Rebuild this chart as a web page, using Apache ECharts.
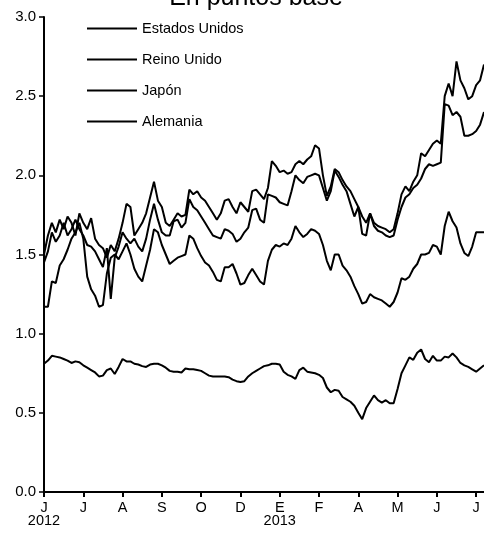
<!DOCTYPE html>
<html>
<head>
<meta charset="utf-8">
<script src="https://cdn.jsdelivr.net/npm/echarts@6/dist/echarts.min.js"></script>
<style>html,body{margin:0;padding:0;background:#fff}#c{width:484px;height:535px}</style>
</head>
<body>
<div id="c"></div>
<script>
// x positions are in "tick units" (one unit per axis tick); samples every 0.1 unit
var monthLabels = ['J\n2012','J','A','S','O','D','E\n2013','F','A','M','J','J'];
var seriesNames = ['Estados Unidos','Reino Unido','Japón','Alemania'];

var estadosUnidos = [1.50,1.62,1.70,1.64,1.72,1.66,1.74,1.70,1.62,1.76,1.70,1.66,1.73,1.60,1.56,1.54,1.48,1.56,1.52,1.60,
1.70,1.82,1.80,1.62,1.66,1.70,1.76,1.86,1.96,1.84,1.80,1.70,1.68,1.72,1.76,1.74,1.75,1.91,1.88,1.90,
1.86,1.84,1.80,1.76,1.72,1.76,1.84,1.85,1.80,1.76,1.83,1.80,1.77,1.90,1.91,1.88,1.85,1.92,2.09,2.06,
2.02,2.03,2.01,2.02,2.07,2.09,2.07,2.10,2.12,2.19,2.17,2.00,1.87,1.93,2.04,2.02,1.97,1.93,1.90,1.85,
1.80,1.74,1.70,1.76,1.70,1.68,1.67,1.66,1.64,1.66,1.76,1.88,1.93,1.90,1.96,2.00,2.14,2.12,2.16,2.20,
2.22,2.20,2.50,2.58,2.50,2.72,2.60,2.55,2.48,2.50,2.57,2.60,2.70];

var reinoUnido = [1.45,1.52,1.64,1.58,1.62,1.70,1.62,1.66,1.72,1.66,1.62,1.56,1.55,1.52,1.47,1.42,1.54,1.22,1.48,1.55,
1.64,1.60,1.57,1.60,1.55,1.52,1.60,1.72,1.82,1.72,1.64,1.62,1.62,1.71,1.72,1.67,1.70,1.85,1.80,1.78,
1.74,1.70,1.66,1.62,1.61,1.60,1.66,1.65,1.63,1.58,1.60,1.64,1.67,1.78,1.79,1.72,1.70,1.88,1.87,1.86,
1.83,1.82,1.81,1.90,2.00,1.97,1.95,1.99,2.00,2.01,2.00,1.92,1.84,1.90,2.03,1.99,1.94,1.90,1.82,1.74,
1.80,1.63,1.62,1.76,1.68,1.65,1.64,1.62,1.61,1.62,1.72,1.80,1.86,1.88,1.92,1.94,1.98,2.04,2.07,2.06,
2.07,2.08,2.45,2.44,2.38,2.40,2.37,2.25,2.25,2.26,2.28,2.32,2.40];

var japon = [0.81,0.83,0.86,0.855,0.85,0.84,0.83,0.815,0.825,0.82,0.80,0.785,0.77,0.755,0.73,0.735,0.77,0.78,0.745,0.79,
0.84,0.825,0.825,0.81,0.805,0.795,0.79,0.805,0.81,0.81,0.80,0.785,0.765,0.76,0.76,0.755,0.78,0.775,0.775,0.77,
0.765,0.75,0.735,0.73,0.73,0.73,0.73,0.725,0.71,0.70,0.695,0.70,0.73,0.75,0.765,0.78,0.795,0.80,0.81,0.81,
0.805,0.76,0.74,0.73,0.715,0.77,0.785,0.76,0.755,0.75,0.74,0.72,0.66,0.63,0.645,0.64,0.60,0.585,0.57,0.545,
0.50,0.46,0.53,0.57,0.61,0.58,0.565,0.58,0.56,0.56,0.65,0.75,0.80,0.85,0.835,0.88,0.90,0.84,0.82,0.86,
0.83,0.83,0.855,0.85,0.875,0.85,0.815,0.80,0.79,0.775,0.76,0.78,0.80];

var alemania = [1.17,1.17,1.33,1.32,1.43,1.47,1.53,1.60,1.64,1.70,1.60,1.36,1.28,1.24,1.17,1.18,1.38,1.48,1.50,1.47,
1.52,1.57,1.50,1.41,1.36,1.33,1.43,1.53,1.66,1.64,1.56,1.50,1.44,1.46,1.48,1.49,1.50,1.62,1.60,1.54,
1.49,1.45,1.43,1.39,1.34,1.33,1.42,1.42,1.44,1.38,1.31,1.32,1.37,1.41,1.37,1.33,1.31,1.46,1.53,1.56,
1.55,1.57,1.56,1.60,1.68,1.64,1.61,1.63,1.66,1.65,1.63,1.56,1.46,1.40,1.50,1.50,1.43,1.40,1.36,1.30,
1.25,1.19,1.20,1.25,1.23,1.22,1.21,1.19,1.17,1.20,1.26,1.35,1.34,1.36,1.41,1.44,1.50,1.50,1.51,1.56,
1.55,1.50,1.68,1.77,1.71,1.67,1.57,1.51,1.49,1.55,1.64,1.64,1.64];

function pairs(vals){ return vals.map(function(v,i){ return [i*0.1, v]; }); }

var chart = echarts.init(document.getElementById('c'), null, {renderer:'canvas'});
var FONT = '"Liberation Sans", Arial, sans-serif';
var allData = [estadosUnidos, reinoUnido, japon, alemania];

chart.setOption({
  animation: false,
  backgroundColor: '#fff',
  graphic: [{
    type: 'text', x: 256, y: 11,
    style: { text: 'En puntos base', fill: '#000', font: '25px ' + FONT, align: 'center', verticalAlign: 'bottom' }
  }],
  legend: {
    left: 87, top: 21, orient: 'vertical', icon: 'rect', padding: 0,
    itemWidth: 50, itemHeight: 2, itemGap: 16,
    textStyle: { color: '#000', fontSize: 14.5, fontFamily: FONT },
    data: seriesNames
  },
  grid: { left: 44, right: 0, top: 17, bottom: 43, containLabel: false },
  xAxis: {
    type: 'value', min: 0, max: 11.2, interval: 1,
    splitLine: { show: false },
    axisLine: { show: true, lineStyle: { color: '#000', width: 2 } },
    axisTick: { show: true, length: 5, lineStyle: { color: '#000', width: 2 } },
    axisLabel: {
      color: '#000', fontSize: 14.5, fontFamily: FONT, margin: 9, lineHeight: 13,
      showMaxLabel: false,
      formatter: function(v){ var k = Math.round(v); return (Math.abs(v-k) < 1e-6 && monthLabels[k]) ? monthLabels[k] : ''; }
    }
  },
  yAxis: {
    type: 'value', min: 0, max: 3, interval: 0.5,
    splitLine: { show: false },
    axisLine: { show: true, lineStyle: { color: '#000', width: 2 } },
    axisTick: { show: true, length: 5, lineStyle: { color: '#000', width: 1.5 } },
    axisLabel: { color: '#000', fontSize: 15, fontFamily: FONT, margin: 8,
      formatter: function(v){ return v.toFixed(1); } }
  },
  series: seriesNames.map(function(n, k){
    return {
      name: n, type: 'line', data: pairs(allData[k]),
      symbol: 'none', showSymbol: false, smooth: false,
      lineStyle: { color: '#000', width: 2 },
      itemStyle: { color: '#000' }
    };
  })
});
</script>
</body>
</html>
